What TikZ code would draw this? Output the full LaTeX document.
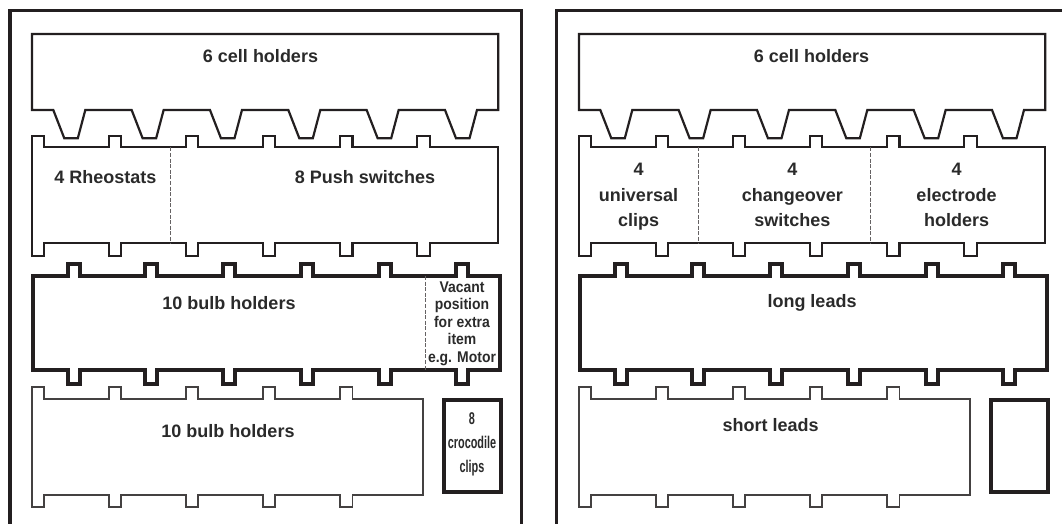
\documentclass[tikz,border=0pt]{standalone}
\usepackage{fontspec}
\setmainfont{Liberation Sans}
\newfontfamily\vacantfont[FakeStretch=0.9]{Liberation Sans}
\newfontfamily\clipfont[FakeStretch=0.64]{Liberation Sans}
\definecolor{ink}{HTML}{231F20}
\definecolor{txt}{HTML}{2A2A2A}
\tikzset{
  frame/.style={draw=ink, line width=3.2pt},
  thinbox/.style={draw=ink, line width=2.2pt},
  finebox/.style={draw=ink!85, line width=1.8pt},
  heavybox/.style={draw=ink, line width=4pt},
  divider/.style={draw=ink!70, line width=0.9pt, dash pattern=on 4pt off 1.6pt},
  lbl/.style={font=\bfseries\fontsize{18}{25.5}\selectfont, text=txt, inner sep=0pt, anchor=base},
  stack/.style={lbl, anchor=north, align=center}
}
% trays shared by both boards (image pixel coordinates, y downwards)
\newcommand{\trayrows}{%
  % cell-holder tray with six tapered teeth
  \draw[thinbox] (32,34) -- (498.3,34) -- (498.3,110)
    foreach \k in {5,...,0} {
      -- ({53.3+78.34*\k+32},110) -- ({53.3+78.34*\k+24.5},138.3)
      -- ({53.3+78.34*\k+11},138.3) -- ({53.3+78.34*\k},110) }
    -- (32,110) -- cycle;
  % second tray
  \draw[thinbox] (31.7,255.8) -- (31.7,135.7) -- (44,135.7) -- (44,147.3)
    foreach \k in {1,...,5} {
      -- ({31.7+77.12*\k},147.3) -- ++(0,-11.6) -- ++(12.3,0) -- ++(0,11.6) }
    -- (498.3,147.3) -- (498.3,243)
    foreach \k in {5,...,1} {
      -- ({31.7+77.12*\k+12.3},243) -- ++(0,12.8) -- ++(-12.3,0) -- ++(0,-12.8) }
    -- (44,243) -- (44,255.8) -- cycle;
  % heavy third tray
  \draw[heavybox] (32.7,276)
    foreach \k in {0,...,5} {
      -- ({67.7+77.7*\k},276) -- ++(0,-12.5) -- ++(12,0) -- ++(0,12.5) }
    -- (500,276) -- (500,370)
    foreach \k in {5,...,0} {
      -- ({79.7+77.7*\k},370) -- ++(0,13.5) -- ++(-12,0) -- ++(0,-13.5) }
    -- (32.7,370) -- cycle;
  % bottom tray
  \draw[finebox] (31.7,507.3) -- (31.7,386.7) -- (44,386.7) -- (44,399)
    foreach \k in {1,...,4} {
      -- ({31.7+77.12*\k},399) -- ++(0,-12.3) -- ++(12.3,0) -- ++(0,12.3) }
    -- (422.7,399) -- (422.7,495)
    foreach \k in {4,...,1} {
      -- ({31.7+77.12*\k+12.3},495) -- ++(0,12.3) -- ++(-12.3,0) -- ++(0,-12.3) }
    -- (44,495) -- (44,507.3) -- cycle;
  % small box beside the bottom tray
  \draw[heavybox] (443.7,399.7) rectangle (500.5,492);
}
\begin{document}
\begin{tikzpicture}[x=1pt, y=-1pt]
\useasboundingbox (0,0) rectangle (1062,524);
\clip (0,0) rectangle (1062,524);

% board outlines
\draw[frame] (10,530) -- (10,10.7) -- (521.7,10.7) -- (521.7,530);
\draw[frame] (556.7,530) -- (556.7,10.7) -- (1070,10.7);

% left board
\trayrows
\draw[divider] (170,147.3) -- (170,243);
\draw[divider] (425,276) -- (425,370);
\node[lbl] (lcell) at (260.5,62.7) {6 cell holders};
\node[lbl] (rheo) at (105.5,183) {4 Rheostats};
\node[lbl] (push) at (365,183) {8 Push switches};
\node[lbl] (bulbA) at (229,309) {10 bulb holders};
\node[lbl] (bulbB) at (228,437) {10 bulb holders};
\node[stack, font=\vacantfont\bfseries\fontsize{15.5}{17.5}\selectfont] (vacant) at (462,281.2)
  {Vacant\\position\\for extra\\item\\e.g. Motor};
\node[stack, font=\clipfont\bfseries\fontsize{17}{24}\selectfont] (croc) at (472,412)
  {8\\crocodile\\clips};

% right board
\begin{scope}[xshift=547pt]
  \trayrows
\end{scope}
\draw[divider] (698.5,147.3) -- (698.5,243);
\draw[divider] (870.7,147.3) -- (870.7,243);
\node[lbl] (rcell) at (811.5,62.7) {6 cell holders};
\node[stack] (univ) at (638.5,163.4) {4\\universal\\clips};
\node[stack] (change) at (792.3,163.4) {4\\changeover\\switches};
\node[stack] (electrode) at (956.5,163.4) {4\\electrode\\holders};
\node[lbl] (longl) at (812,307.8) {long leads};
\node[lbl] (shortl) at (770.7,431.5) {short leads};
\end{tikzpicture}
\end{document}
